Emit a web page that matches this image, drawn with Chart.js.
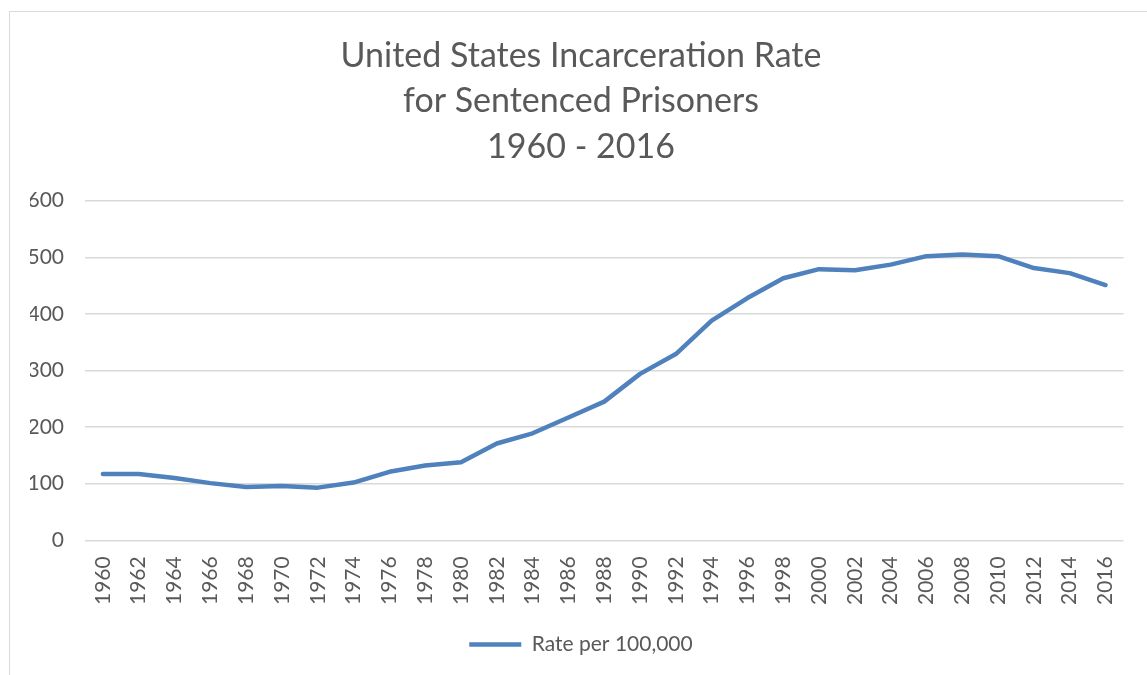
<!DOCTYPE html>
<html>
<head>
<meta charset="utf-8">
<script src="https://cdn.jsdelivr.net/npm/chart.js@4/dist/chart.umd.min.js"></script>
<style>
  html, body { margin: 0; padding: 0; background: #ffffff; }
  #wrap { position: relative; width: 1147px; height: 675px; overflow: hidden; }
  #frame { position: absolute; left: 9px; top: 11px; width: 1200px; height: 700px; border: 1px solid #d9d9d9; }
  canvas { position: absolute; left: 0; top: 0; }
</style>
</head>
<body>
<div id="wrap">
  <div id="frame"></div>
  <canvas id="chart" width="1147" height="675"></canvas>
</div>
<script>
// data
const years = ['1960','1962','1964','1966','1968','1970','1972','1974','1976','1978',
  '1980','1982','1984','1986','1988','1990','1992','1994','1996','1998',
  '2000','2002','2004','2006','2008','2010','2012','2014','2016'];
const rate = [117, 117, 110, 101, 94, 96, 93, 102, 121, 132,
  138, 171, 189, 217, 245, 294, 329, 388, 428, 463,
  479, 477, 487, 502, 505, 502, 481, 472, 451];
const titleLines = ['United States Incarceration Rate', 'for Sentenced Prisoners', '1960 - 2016'];
const seriesName = 'Rate per 100,000';

const FONT = 'Lato, "Liberation Sans", sans-serif';
const GREY = '#595959';

new Chart(document.getElementById('chart').getContext('2d'), {
  type: 'line',
  data: {
    labels: years,
    datasets: [{
      label: seriesName,
      data: rate,
      borderColor: '#4f81bd',
      backgroundColor: '#4f81bd',
      borderWidth: 4.5,
      borderCapStyle: 'round',
      borderJoinStyle: 'round',
      pointRadius: 0,
      tension: 0,
      fill: false
    }]
  },
  options: {
    responsive: false,
    animation: false,
    layout: { padding: { left: 30, right: 15, top: 33, bottom: 10 } },
    plugins: {
      title: {
        display: true,
        text: titleLines,
        color: GREY,
        font: { family: FONT, size: 34, weight: 'normal', lineHeight: 1.34 },
        padding: { top: 0, bottom: 31 }
      },
      legend: {
        position: 'bottom',
        labels: {
          usePointStyle: true,
          pointStyle: 'line',
          pointStyleWidth: 52,
          color: GREY,
          font: { family: FONT, size: 21 },
          padding: 14
        }
      },
      tooltip: { enabled: false }
    },
    scales: {
      x: {
        offset: true,
        grid: { display: false, drawTicks: false },
        border: { display: false },
        ticks: {
          color: GREY,
          font: { family: FONT, size: 21 },
          minRotation: 90,
          maxRotation: 90,
          autoSkip: false,
          padding: 16
        },
        afterFit: s => { s.height -= 1; }
      },
      y: {
        min: 0,
        max: 600,
        grid: { color: '#d9d9d9', lineWidth: 1.5, drawTicks: false },
        border: { display: false },
        ticks: {
          stepSize: 100,
          color: GREY,
          font: { family: FONT, size: 21 },
          padding: 21
        },
        afterFit: s => { s.width = 55; }
      }
    }
  }
});
</script>
</body>
</html>
